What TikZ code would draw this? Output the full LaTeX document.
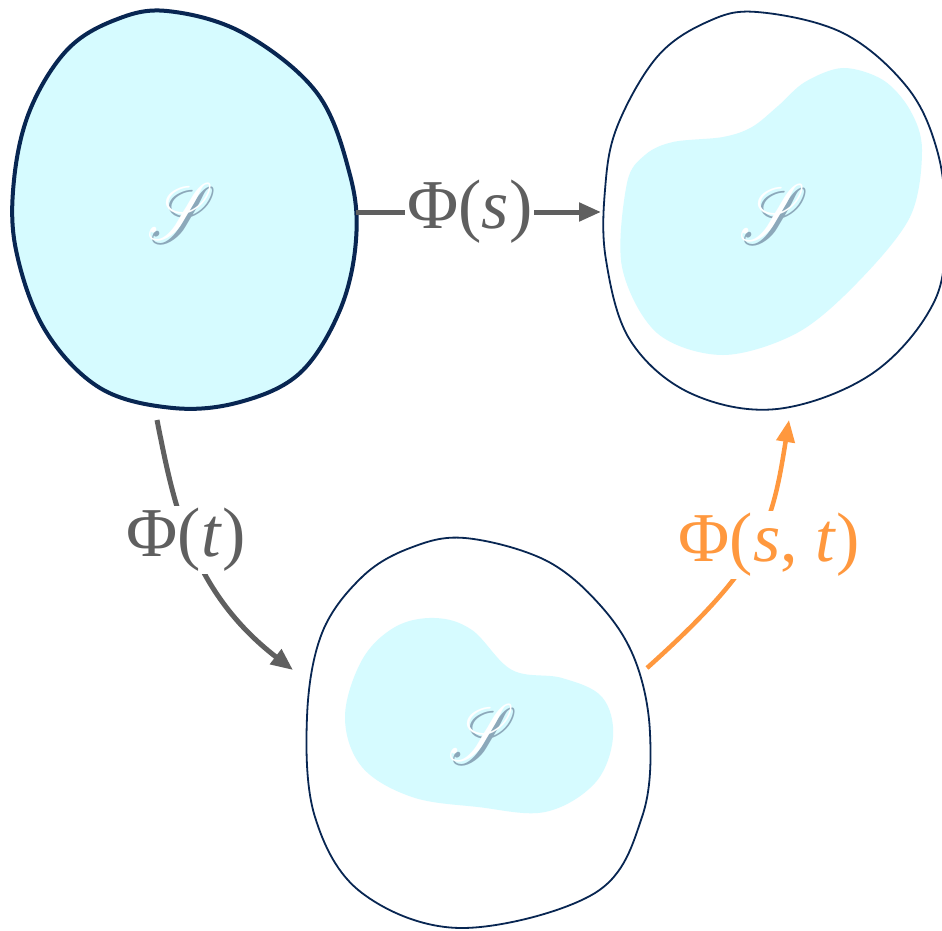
\documentclass[tikz,border=0pt]{standalone}
\usepackage{fontspec}
\setmainfont{Liberation Serif}
\usetikzlibrary{arrows.meta}
\DeclareFontFamily{U}{myrsfs}{\skewchar\font127 }
\DeclareFontShape{U}{myrsfs}{m}{n}{<-> rsfs10}{}
\definecolor{navy}{RGB}{8,38,82}
\definecolor{cyanfill}{RGB}{214,251,255}
\definecolor{arrgray}{RGB}{95,95,95}
\definecolor{arrorange}{RGB}{255,152,62}
\definecolor{sshadow}{RGB}{140,168,186}
\newcommand{\setglyph}{\scalebox{0.78}[1]{\rlap{\kern3pt\raisebox{-4pt}{\textcolor{sshadow}{S}}}\textcolor{white}{S}}}
\tikzset{
  blobthick/.style={draw=navy, line width=4pt, fill=cyanfill},
  blobthin/.style={draw=navy, line width=1.8pt},
  innerblob/.style={fill=cyanfill},
  grayarrow/.style={line width=5pt, draw=arrgray, -{Triangle[length=22pt,width=18pt]}},
  orangearrow/.style={line width=4.5pt, draw=arrorange, -{Triangle[length=22pt,width=18pt]}},
  lbl/.style={fill=white, inner sep=2pt, text=arrgray, font=\fontsize{70}{70}\selectfont},
  setletter/.style={inner sep=0pt, font=\fontsize{80}{80}\usefont{U}{myrsfs}{m}{n}},
}
\begin{document}
\begin{tikzpicture}[x=1pt,y=-1pt]
\useasboundingbox (0,0) rectangle (942,931);
\clip (0,0) rectangle (942,931);
\fill[white] (0,0) rectangle (942,931);

% top-left set
\draw[blobthick] plot[smooth cycle, tension=0.6] coordinates {
  (167,11) (243,33) (317,93) (350,175) (356,240) (340,310) (300,373) (240,402)
  (173,408) (100,388) (45,330) (16,250) (14,180) (30,110) (67,50) (115,20)};
\node[setletter] (S1) at (175,213) {\setglyph};

% top-right set
\draw[blobthin] plot[smooth cycle, tension=0.6] coordinates {
  (757,12) (843,33) (907,87) (937,150) (945,220) (935,300) (873,373) (777,409)
  (690,393) (630,340) (606,260) (605,190) (617,127) (657,57) (707,22)};
\fill[innerblob] plot[smooth cycle, tension=0.55] coordinates {
  (843,68) (883,80) (910,110) (922,150) (910,217) (857,283) (797,333) (723,355)
  (657,333) (622,267) (627,183) (645,155) (673,142) (723,137) (752,127) (778,106) (805,82)};
\node[setletter] (S2) at (767,214) {\setglyph};

% bottom set
\draw[blobthin] plot[smooth cycle, tension=0.6] coordinates {
  (465,538) (545,560) (600,605) (635,660) (650,733) (642,817) (595,893) (462,928)
  (362,893) (315,817) (307,717) (322,633) (362,577) (410,548)};
\fill[innerblob] plot[smooth cycle, tension=0.6] coordinates {
  (435,618) (472,630) (512,670) (562,678) (602,697) (613,737) (595,783) (545,812)
  (478,807) (412,797) (362,767) (345,717) (362,660) (395,627)};
\node[setletter] (S3) at (476,734) {\setglyph};

% arrows
\coordinate (a1) at (356,212);
\coordinate (b1) at (601,212);
\draw[grayarrow] (a1) -- node[lbl, pos=0.465] {Φ(\textit{s})} (b1);

\coordinate (a2) at (157,420);
\coordinate (b2) at (293,670);
\draw[grayarrow] (a2) .. controls (173,500) and (189,590) .. node[lbl, midway, xshift=-6pt, yshift=5pt] {Φ(\textit{t})} (b2);

\coordinate (a3) at (647,668);
\coordinate (b3) at (789,420);
\draw[orangearrow] (a3) .. controls (763,564) and (772,527) .. node[lbl, midway, xshift=14pt, text=arrorange] {Φ(\textit{s}, \textit{t})} (b3);
\end{tikzpicture}
\end{document}
